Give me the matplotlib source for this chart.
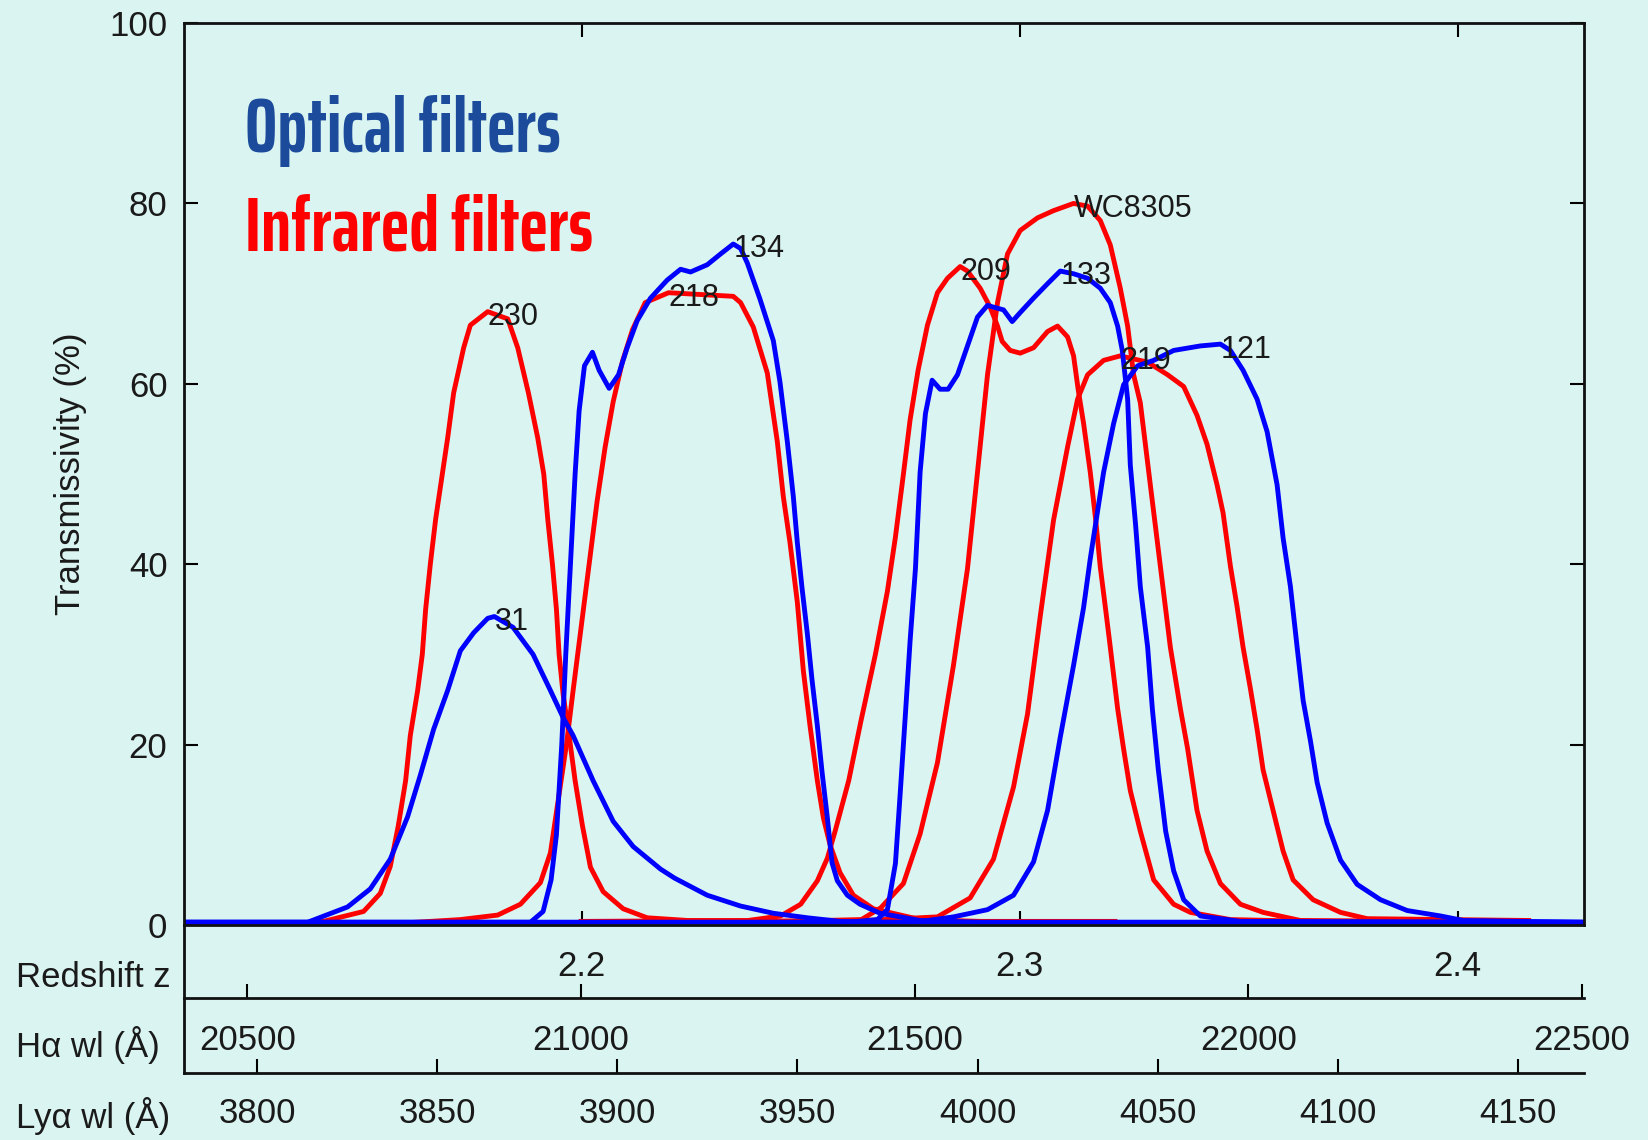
import numpy as np
import matplotlib
matplotlib.use('Agg')
from matplotlib import pyplot as plt

plt.rcParams['font.family'] = ['Liberation Sans', 'DejaVu Sans']

HA_REST = 6562.8
LYA_REST = 1215.67

# optical filters (blue): wavelength in H-alpha frame (A), transmissivity (%)
f31_wl = [20405, 20590, 20650, 20684, 20714, 20740, 20759, 20779, 20800, 20819, 20839, 20860,
          20870, 20898, 20928, 20954, 20973, 20988, 21018, 21048, 21078, 21119, 21140, 21189,
          21239, 21288, 21339, 21388, 21478, 22503]
f31_tr = [0.3, 0.3, 2, 4, 7.3, 12, 16.6, 21.7, 26, 30.4, 32.4, 34,
          34.2, 33, 30, 26, 23, 21, 16, 11.5, 8.7, 6.2, 5.2, 3.3,
          2.1, 1.3, 0.8, 0.4, 0.3, 0.3]

f134_wl = [20405, 20924, 20943, 20955, 20963, 20971, 20977, 20984, 20991, 20997, 21005, 21017,
           21027, 21042, 21056, 21069, 21084, 21104, 21129, 21149, 21164, 21189, 21209, 21228,
           21239, 21249, 21268, 21288, 21298, 21309, 21318, 21324, 21331, 21339, 21346, 21354,
           21361, 21369, 21376, 21384, 21399, 21418, 21448, 21508, 21598, 22503]
f134_tr = [0.3, 0.3, 1.5, 5, 10, 20, 30, 40, 50, 57, 62, 63.5,
           61.5, 59.5, 61, 64, 67, 69.5, 71.5, 72.7, 72.4, 73.2, 74.4, 75.5,
           75, 73.4, 69.4, 64.8, 60.2, 53.6, 47.5, 42.4, 37.4, 32.3, 27.2, 22.1,
           17, 11.9, 6.9, 4.9, 3.3, 2.3, 1.3, 0.5, 0.3, 0.3]

f133_wl = [20405, 21400, 21444, 21459, 21471, 21478, 21486, 21493, 21501, 21508, 21516, 21526,
           21538, 21550, 21564, 21579, 21594, 21609, 21618, 21633, 21646, 21658, 21678, 21699,
           21718, 21738, 21759, 21778, 21793, 21804, 21811, 21819, 21823, 21831, 21838, 21849,
           21856, 21865, 21876, 21888, 21903, 21928, 21988, 22503]
f133_tr = [0.3, 0.3, 0.6, 1.7, 6.8, 14.4, 23.4, 31.5, 39.5, 50.2, 56.7, 60.4,
           59.4, 59.4, 61, 64.2, 67.4, 68.7, 68.5, 68.2, 66.9, 67.9, 69.5, 71.1,
           72.5, 72.2, 71.7, 70.6, 69, 66.4, 63.7, 58.3, 51, 44.3, 37.5, 30.8,
           24, 17.2, 10.4, 6, 2.8, 1, 0.4, 0.3]

f121_wl = [20405, 21500, 21558, 21609, 21648, 21678, 21699, 21718, 21738, 21753, 21763, 21774,
           21783, 21798, 21813, 21834, 21858, 21888, 21928, 21958, 21973, 21992, 22013, 22028,
           22043, 22052, 22063, 22073, 22082, 22093, 22103, 22118, 22138, 22163, 22198, 22238,
           22288, 22322, 22503]
f121_tr = [0.3, 0.3, 0.9, 1.7, 3.3, 7, 12.7, 20.8, 28.8, 35.2, 40.6, 45.9,
           50.2, 55.6, 59.9, 62, 62.6, 63.7, 64.2, 64.4, 63.7, 61.5, 58.3, 54.7,
           48.8, 42.9, 37.5, 30.8, 24.9, 20.4, 15.8, 11.3, 7.2, 4.5, 2.8, 1.6,
           1, 0.5, 0.3]

# infrared filters (red)
f230_wl = [20405, 20579, 20614, 20674, 20699, 20714, 20726, 20737, 20744, 20755, 20762, 20767,
           20774, 20782, 20792, 20800, 20809, 20824, 20834, 20860, 20890, 20905, 20921, 20935,
           20944, 20950, 20957, 20963, 20967, 20973, 20982, 20991, 21002, 21014, 21033, 21063,
           21099, 21160, 21400]
f230_tr = [0.2, 0.2, 0.4, 1.5, 3.5, 6.5, 11, 16, 21, 26, 30, 35,
           40, 45, 50, 54, 59, 64, 66.5, 68, 67.2, 64, 59, 54,
           50, 45, 40, 35, 30, 25.6, 21, 16, 11, 6.4, 3.7, 1.8,
           0.8, 0.5, 0.4]

f218_wl = [20729, 20819, 20875, 20909, 20939, 20954, 20966, 20978, 20988, 21000, 21012, 21024,
           21036, 21048, 21062, 21077, 21096, 21131, 21179, 21228, 21239, 21258, 21279, 21294,
           21303, 21313, 21324, 21333, 21343, 21354, 21363, 21373, 21388, 21408, 21438, 21508,
           21598, 21800]
f218_tr = [0.2, 0.6, 1.1, 2.3, 4.7, 8, 14, 20, 26, 33, 40, 47,
           53, 58, 62.5, 66, 69, 70.1, 69.9, 69.7, 69, 66.3, 61.2, 53.6,
           47.5, 42.4, 35.8, 28.2, 22.1, 16, 11.9, 8.9, 5.8, 3.3, 1.8, 0.6,
           0.4, 0.4]

f209_wl = [21000, 21250, 21299, 21329, 21354, 21369, 21381, 21401, 21419, 21441, 21459, 21471,
           21483, 21493, 21505, 21519, 21534, 21549, 21568, 21579, 21598, 21613, 21624, 21631,
           21643, 21658, 21678, 21699, 21714, 21729, 21738, 21745, 21753, 21763, 21771, 21778,
           21786, 21793, 21804, 21813, 21823, 21838, 21858, 21888, 21913, 21973, 22100]
f209_tr = [0.4, 0.5, 1, 2.3, 4.9, 7.4, 10.5, 16, 22.5, 30, 37, 43,
           50, 56, 61.5, 66.5, 70.1, 71.7, 73, 72.5, 70.6, 68.5, 66.4, 64.7,
           63.7, 63.4, 64, 65.8, 66.4, 65.2, 63.1, 59.3, 55.6, 50.2, 45, 39.7,
           35, 30.8, 24, 19.5, 14.9, 10.4, 5, 2.3, 1.4, 0.6, 0.4]

fwc_wl = [21300, 21420, 21449, 21483, 21508, 21534, 21558, 21579, 21594, 21609, 21624, 21639,
          21658, 21684, 21708, 21738, 21759, 21778, 21793, 21808, 21819, 21828, 21838, 21853,
          21868, 21883, 21898, 21909, 21923, 21938, 21958, 21988, 22022, 22078, 22300]
fwc_tr = [0.4, 0.6, 1.9, 4.6, 10.1, 18, 28.8, 39.5, 50.2, 61, 69, 74.4,
          77, 78.4, 79.2, 80, 79.7, 78.1, 75.4, 70.6, 66.4, 61, 57.9, 48.8,
          39.8, 30.8, 24, 19.5, 12.7, 8.2, 4.6, 2.3, 1.4, 0.5, 0.4]

f219_wl = [21400, 21534, 21583, 21618, 21648, 21669, 21688, 21708, 21729, 21744, 21759, 21783,
           21808, 21849, 21879, 21903, 21923, 21938, 21953, 21962, 21973, 21983, 21992, 22003,
           22013, 22022, 22037, 22052, 22067, 22097, 22138, 22178, 22420]
f219_tr = [0.4, 0.9, 3, 7.3, 15.3, 23.4, 34.2, 44.9, 53, 58.3, 61, 62.6,
           63.1, 62.4, 61, 59.7, 56.5, 53.3, 48.8, 45.7, 39.8, 35.3, 30.8, 26.2,
           21.7, 17.2, 12.7, 8.2, 5, 2.8, 1.4, 0.7, 0.5]

optical = [('31', f31_wl, f31_tr), ('134', f134_wl, f134_tr),
           ('133', f133_wl, f133_tr), ('121', f121_wl, f121_tr)]
infrared = [('230', f230_wl, f230_tr), ('218', f218_wl, f218_tr), ('209', f209_wl, f209_tr),
            ('WC8305', fwc_wl, fwc_tr), ('219', f219_wl, f219_tr)]

z_ticks = [2.2, 2.3, 2.4]
ha_ticks = [20500, 21000, 21500, 22000, 22500]
lya_ticks = [3800, 3850, 3900, 3950, 4000, 4050, 4100, 4150]

BG = '#daf5f1'
TXT = '#1a1a1a'
FS = 25
xlim = (20405, 22503)
BIG = ['Saira ExtraCondensed', 'DejaVu Sans']

fig = plt.figure(figsize=(16.48, 11.40), dpi=100, facecolor=BG)
ax = fig.add_axes([0.1117, 0.1886, 0.8495, 0.7912])
ax.set_facecolor(BG)

for name, wl, tr in infrared:
    ax.plot(wl, tr, color='#ff0000', lw=3.5)
for name, wl, tr in optical:
    ax.plot(wl, tr, color='#0000ff', lw=3.5)
# filter names sit at each curve's maximum
for name, wl, tr in infrared + optical:
    i = int(np.argmax(tr))
    ax.text(wl[i], tr[i] - 0.6, name, ha='left', va='center', fontsize=22, color=TXT)

ax.set_xlim(xlim)
ax.set_ylim(0, 100)
ax.set_yticks([0, 20, 40, 60, 80, 100])
ax.set_xticks([HA_REST * (1 + z) for z in z_ticks])
ax.set_xticklabels([f'{z:.1f}' for z in z_ticks])
ax.tick_params(direction='in', length=10, width=1.5, top=True, right=True,
               labelsize=FS, labelcolor=TXT, pad=12)
ax.tick_params(axis='x', pad=18)
for s in ax.spines.values():
    s.set_linewidth(2)
    s.set_color('#111111')
ax.set_ylabel('Transmissivity (%)', fontsize=FS, color=TXT)
ax.yaxis.set_label_coords(-0.069, 0.5)

ax.text(0.0436, 0.857, 'Optical filters', transform=ax.transAxes, fontsize=55,
        fontweight='bold', color='#1c4b9c', va='baseline', family=BIG)
ax.text(0.0436, 0.748, 'Infrared filters', transform=ax.transAxes, fontsize=55,
        fontweight='bold', color='#ff0000', va='baseline', family=BIG)

# extra wavelength scales under the plot
strips = [([0.1117, 0.1246, 0.8495, 0.064], ha_ticks, [str(t) for t in ha_ticks], 19),
          ([0.1117, 0.0588, 0.8495, 0.0658], [t / LYA_REST * HA_REST for t in lya_ticks],
           [str(t) for t in lya_ticks], 17)]
for rect, ticks, labels, pad in strips:
    sa = fig.add_axes(rect)
    sa.patch.set_alpha(0)
    sa.set_xlim(xlim)
    sa.set_yticks([])
    sa.spines['top'].set_visible(False)
    sa.spines['right'].set_visible(False)
    for s in ('left', 'bottom'):
        sa.spines[s].set_linewidth(2)
        sa.spines[s].set_color('#111111')
    sa.set_xticks(ticks)
    sa.set_xticklabels(labels)
    sa.tick_params(direction='in', length=10, width=1.5, labelsize=FS,
                   labelcolor=TXT, pad=pad)

fig.text(16 / 1648, 0.1342, 'Redshift z', fontsize=FS, color=TXT, va='baseline')
fig.text(16 / 1648, 0.0728, 'Hα wl (Å)', fontsize=FS, color=TXT, va='baseline')
fig.text(16 / 1648, 0.0105, 'Lyα wl (Å)', fontsize=FS, color=TXT, va='baseline')

fig.savefig('out.png', dpi=100, facecolor=BG)
